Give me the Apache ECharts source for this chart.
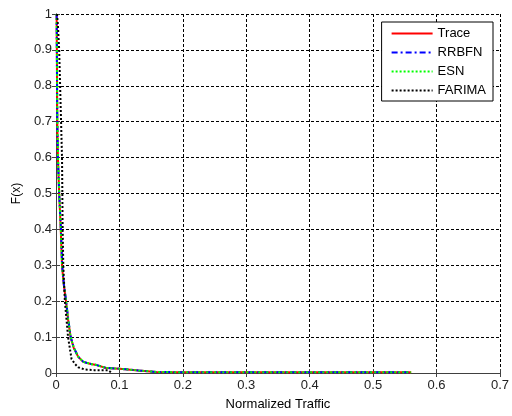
<!DOCTYPE html>
<html><head><meta charset="utf-8">
<script src="https://cdn.jsdelivr.net/npm/echarts@6/dist/echarts.min.js"></script>
<style>html,body{margin:0;padding:0;background:#fff}#c{width:512px;height:416px}</style>
</head><body><div id="c"></div>
<script>
const xTicks = [0, 0.1, 0.2, 0.3, 0.4, 0.5, 0.6, 0.7];
const yTicks = [0, 0.1, 0.2, 0.3, 0.4, 0.5, 0.6, 0.7, 0.8, 0.9, 1];
const seriesNames = ['Trace', 'RRBFN', 'ESN', 'FARIMA'];

const traceX = [0.001,0.0015,0.002,0.003,0.005,0.0075,0.0095,0.012,0.0157,0.019,0.023,0.028,0.035,0.043,0.055,0.064,0.079,0.1,0.13,0.158,0.2,0.3,0.4,0.5,0.56];
const traceY = [1,0.85,0.7,0.6,0.5,0.4,0.3,0.25,0.2,0.15,0.1,0.07,0.045,0.031,0.025,0.022,0.014,0.012,0.007,0.003,0.002,0.002,0.002,0.002,0.002];
const rrbfnX = [0.001,0.0015,0.002,0.003,0.005,0.0078,0.0097,0.0122,0.016,0.0193,0.0232,0.0282,0.0352,0.0432,0.0552,0.0642,0.0792,0.1,0.13,0.158,0.2,0.3,0.4,0.5,0.56];
const rrbfnY = [1,0.85,0.7,0.6,0.5,0.4,0.3,0.25,0.2,0.15,0.1,0.07,0.045,0.031,0.025,0.022,0.014,0.012,0.007,0.003,0.002,0.002,0.002,0.002,0.002];
const esnX = [0.001,0.0016,0.0022,0.0032,0.0052,0.0076,0.0096,0.0121,0.0158,0.0191,0.0231,0.0281,0.0351,0.0431,0.0551,0.0641,0.0791,0.1,0.13,0.158,0.2,0.3,0.4,0.5,0.56];
const esnY = [1,0.85,0.7,0.6,0.5,0.4,0.3,0.25,0.2,0.15,0.1,0.07,0.045,0.031,0.025,0.022,0.014,0.012,0.007,0.003,0.002,0.002,0.002,0.002,0.002];
const farimaX = [0.0016,0.003,0.005,0.008,0.0095,0.01,0.0105,0.0115,0.014,0.019,0.0245,0.03,0.035,0.045,0.06,0.082,0.088];
const farimaY = [1,0.97,0.9,0.7,0.6,0.5,0.4,0.3,0.2,0.1,0.039,0.025,0.016,0.01,0.008,0.008,0.0];

function pairs(xs, ys) { return xs.map((x, i) => [x, ys[i]]); }

const font = 'Liberation Sans, Arial, sans-serif';
const chart = echarts.init(document.getElementById('c'));
const axisCol = '#404040';
const gridLine = {show: true, lineStyle: {color: '#000', type: [3, 2], width: 1}};
chart.setOption({
  animation: false,
  backgroundColor: '#fff',
  grid: {left: 56, right: 9, top: 14, bottom: 42},
  legend: {
    orient: 'vertical', right: 19, top: 22,
    data: seriesNames,
    backgroundColor: '#fff', borderColor: '#000', borderWidth: 1, borderRadius: 0,
    padding: [5, 7, 4, 9], itemGap: 6, itemWidth: 41, itemHeight: 14,
    itemStyle: {color: 'rgba(0,0,0,0)', borderColor: 'rgba(0,0,0,0)', borderWidth: 0},
    textStyle: {fontFamily: font, fontSize: 13, color: '#000'}
  },
  xAxis: [{
    type: 'value', min: 0, max: 0.7, interval: 0.1,
    name: 'Normalized Traffic', nameLocation: 'middle', nameGap: 25,
    nameTextStyle: {fontFamily: font, fontSize: 13, color: '#000'},
    axisLine: {show: true, lineStyle: {color: axisCol}},
    axisTick: {show: true, inside: true, length: 4, lineStyle: {color: axisCol}},
    axisLabel: {fontFamily: font, fontSize: 13, color: '#222', margin: 6},
    splitLine: gridLine
  }, {
    type: 'value', min: 0, max: 0.7, interval: 0.1, position: 'top',
    axisLine: {show: true, lineStyle: {color: axisCol}},
    axisTick: {show: true, inside: true, length: 4, lineStyle: {color: axisCol}},
    axisLabel: {show: false}, splitLine: {show: false}
  }],
  yAxis: [{
    type: 'value', min: 0, max: 1, interval: 0.1,
    name: 'F(x)', nameLocation: 'middle', nameGap: 32, nameRotate: 90,
    nameTextStyle: {fontFamily: font, fontSize: 12, color: '#000'},
    axisLine: {show: true, lineStyle: {color: axisCol}},
    axisTick: {show: true, inside: true, length: 4, lineStyle: {color: axisCol}},
    axisLabel: {fontFamily: font, fontSize: 13, color: '#222', margin: 4},
    splitLine: gridLine
  }, {
    type: 'value', min: 0, max: 1, interval: 0.1, position: 'right',
    axisLine: {show: true, lineStyle: {color: axisCol}},
    axisTick: {show: true, inside: true, length: 4, lineStyle: {color: axisCol}},
    axisLabel: {show: false}, splitLine: {show: false}
  }],
  series: [
    {name: 'Trace', type: 'line', data: pairs(traceX, traceY), symbol: 'none', color: '#ff0000', lineStyle: {width: 2, type: 'solid'}},
    {name: 'RRBFN', type: 'line', data: pairs(rrbfnX, rrbfnY), symbol: 'none', color: '#0000ff', lineStyle: {width: 2, type: [6, 3, 2, 3]}},
    {name: 'ESN', type: 'line', data: pairs(esnX, esnY), symbol: 'none', color: '#00ff00', lineStyle: {width: 2, type: [2, 2]}},
    {name: 'FARIMA', type: 'line', data: pairs(farimaX, farimaY), symbol: 'none', color: '#000000', lineStyle: {width: 2, type: [2, 2]}}
  ]
});
</script></body></html>
